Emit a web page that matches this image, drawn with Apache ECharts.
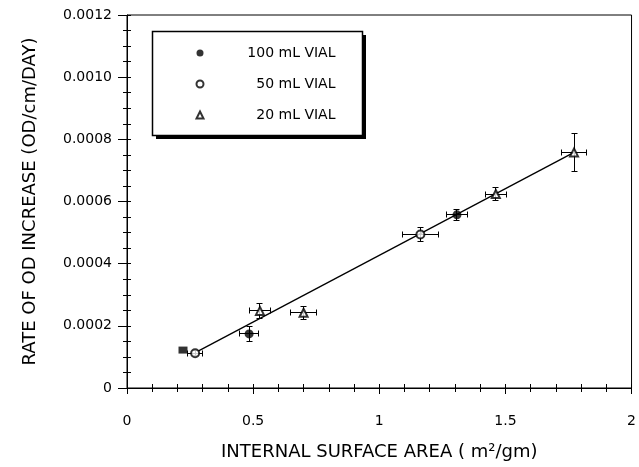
<!DOCTYPE html>
<html>
<head>
<meta charset="utf-8">
<script src="https://cdn.jsdelivr.net/npm/echarts@6/dist/echarts.min.js"></script>
<style>html,body{margin:0;padding:0;background:#fff;}#c{width:639px;height:467px;}</style>
</head>
<body>
<div id="c"></div>
<script>
// ---- data ----
const vial100X = [0.484, 1.308];
const vial100Y = [0.000174, 0.000557];
const vial100XErr = [0.038, 0.040];
const vial100YErr = [0.000025, 0.000017];

const vial50X = [0.270, 1.163];
const vial50Y = [0.000112, 0.000494];
const vial50XErr = [0.030, 0.070];
const vial50YErr = [0.000008, 0.000023];

const vial20X = [0.527, 0.700, 1.462, 1.772];
const vial20Y = [0.000248, 0.000242, 0.000624, 0.000758];
const vial20XErr = [0.040, 0.050, 0.042, 0.050];
const vial20YErr = [0.000023, 0.000021, 0.000020, 0.000060];

const squareX = [0.222];
const squareY = [0.000122];

const fitX = [0.280, 1.772];
const fitY = [0.000118, 0.000758];

const xTickLabels = ['0', '0.5', '1', '1.5', '2'];
const yTickLabels = ['0', '0.0002', '0.0004', '0.0006', '0.0008', '0.0010', '0.0012'];
const legendNames = ['100 mL VIAL', '50 mL VIAL', '20 mL VIAL'];

// ---- build chart ----
const FONT = 'DejaVu Sans';
const pts = (xs, ys) => xs.map((x, i) => [x, ys[i]]);
const errs = (xs, ys, ex, ey) => xs.map((x, i) => [x, ys[i], ex[i], ey[i]]);
const crisp = (v) => Math.round(v - 0.5) + 0.5;

function errRender(params, api) {
  const x = api.value(0), y = api.value(1), ex = api.value(2), ey = api.value(3);
  const c = api.coord([x, y]);
  const l = api.coord([x - ex, y]), r = api.coord([x + ex, y]);
  const t = api.coord([x, y + ey]), b = api.coord([x, y - ey]);
  const cx = crisp(c[0]), cy = crisp(c[1]);
  const lx = crisp(l[0]), rx = crisp(r[0]), ty = crisp(t[1]), by = crisp(b[1]);
  const cap = 3;
  const st = { stroke: '#000', lineWidth: 1 };
  const line = (x1, y1, x2, y2) => ({ type: 'line', shape: { x1, y1, x2, y2 }, style: st });
  return {
    type: 'group',
    children: [
      line(lx, cy, rx, cy),
      line(lx, cy - cap, lx, cy + cap),
      line(rx, cy - cap, rx, cy + cap),
      line(cx, ty, cx, by),
      line(cx - cap, ty, cx + cap, ty),
      line(cx - cap, by, cx + cap, by)
    ]
  };
}

const option = {
  animation: false,
  backgroundColor: '#fff',
  textStyle: { fontFamily: FONT },
  grid: { left: 127, right: 5, top: 15, bottom: 79, show: true, borderColor: '#000', borderWidth: 1 },
  graphic: [
    { type: 'rect', z: 0, shape: { x: 156, y: 35, width: 210, height: 104 }, style: { fill: '#000' } },
    { type: 'rect', z: 0, shape: { x: 152.5, y: 31.5, width: 210, height: 104 }, style: { fill: '#fff', stroke: '#000', lineWidth: 1.5 } }
  ],
  legend: {
    data: legendNames,
    orient: 'vertical',
    left: 195.5,
    top: 46,
    padding: 0,
    itemWidth: 7,
    itemHeight: 7,
    itemGap: 17,
    z: 10,
    formatter: '{a|{name}}',
    textStyle: {
      fontFamily: FONT, fontSize: 14, color: '#000',
      rich: { a: { width: 127, align: 'right', fontFamily: FONT, fontSize: 14, color: '#000' } }
    }
  },
  xAxis: [{
    type: 'value', min: 0, max: 2, interval: 0.5,
    name: 'INTERNAL SURFACE AREA ( m²/gm)',
    nameLocation: 'middle', nameGap: 55,
    nameTextStyle: { fontFamily: FONT, fontSize: 18, color: '#000' },
    axisLine: { show: true, lineStyle: { color: '#000', width: 1 } },
    axisTick: { show: true, inside: false, length: 6, lineStyle: { color: '#000' } },
    minorTick: { show: true, splitNumber: 5, length: 4, lineStyle: { color: '#000' } },
    splitLine: { show: false },
    axisLabel: {
      margin: 26, fontFamily: FONT, fontSize: 14, color: '#000',
      formatter: (v) => xTickLabels[Math.round(v / 0.5)]
    }
  }, {
    type: 'value', min: 0, max: 2, interval: 0.1, position: 'bottom',
    axisLine: { show: false },
    axisTick: { show: true, inside: true, length: 4, lineStyle: { color: '#000' } },
    axisLabel: { show: false }, splitLine: { show: false }
  }],
  yAxis: [{
    type: 'value', min: 0, max: 0.0012, interval: 0.0002,
    name: 'RATE OF OD INCREASE (OD/cm/DAY)',
    nameLocation: 'middle', nameGap: 88,
    nameTextStyle: { fontFamily: FONT, fontSize: 18, color: '#000' },
    axisLine: { show: true, lineStyle: { color: '#000', width: 1 } },
    axisTick: { show: true, inside: false, length: 9, lineStyle: { color: '#000' } },
    minorTick: { show: true, splitNumber: 4, length: 4, lineStyle: { color: '#000' } },
    splitLine: { show: false },
    axisLabel: {
      margin: 15, fontFamily: FONT, fontSize: 14, color: '#000',
      formatter: (v) => yTickLabels[Math.round(v / 0.0002)]
    }
  }, {
    type: 'value', min: 0, max: 0.0012, interval: 0.00005, position: 'left',
    axisLine: { show: false },
    axisTick: { show: true, inside: true, length: 4, lineStyle: { color: '#000' } },
    axisLabel: { show: false }, splitLine: { show: false }
  }],
  series: [
    {
      type: 'line', data: pts(fitX, fitY), symbol: 'none',
      lineStyle: { color: '#000', width: 1.3 }, z: 2, silent: true
    },
    { type: 'custom', renderItem: errRender, data: errs(vial100X, vial100Y, vial100XErr, vial100YErr), z: 3, silent: true },
    { type: 'custom', renderItem: errRender, data: errs(vial50X, vial50Y, vial50XErr, vial50YErr), z: 3, silent: true },
    { type: 'custom', renderItem: errRender, data: errs(vial20X, vial20Y, vial20XErr, vial20YErr), z: 3, silent: true },
    {
      name: legendNames[0], type: 'scatter', data: pts(vial100X, vial100Y),
      symbol: 'circle', symbolSize: 9, itemStyle: { color: '#000' }, z: 5
    },
    {
      name: legendNames[1], type: 'scatter', data: pts(vial50X, vial50Y),
      symbol: 'emptyCircle', symbolSize: 8, itemStyle: { color: '#000', borderColor: '#000', borderWidth: 1 }, z: 5
    },
    {
      name: legendNames[2], type: 'scatter', data: pts(vial20X, vial20Y),
      symbol: 'emptyTriangle', symbolSize: 8, itemStyle: { color: '#000', borderColor: '#000', borderWidth: 1 }, z: 5
    },
    {
      type: 'scatter', data: pts(squareX, squareY),
      symbol: 'rect', symbolSize: [9, 7], itemStyle: { color: '#000' }, z: 5
    }
  ]
};

const chart = echarts.init(document.getElementById('c'), null, { renderer: 'canvas' });
chart.setOption(option);
</script>
</body>
</html>
